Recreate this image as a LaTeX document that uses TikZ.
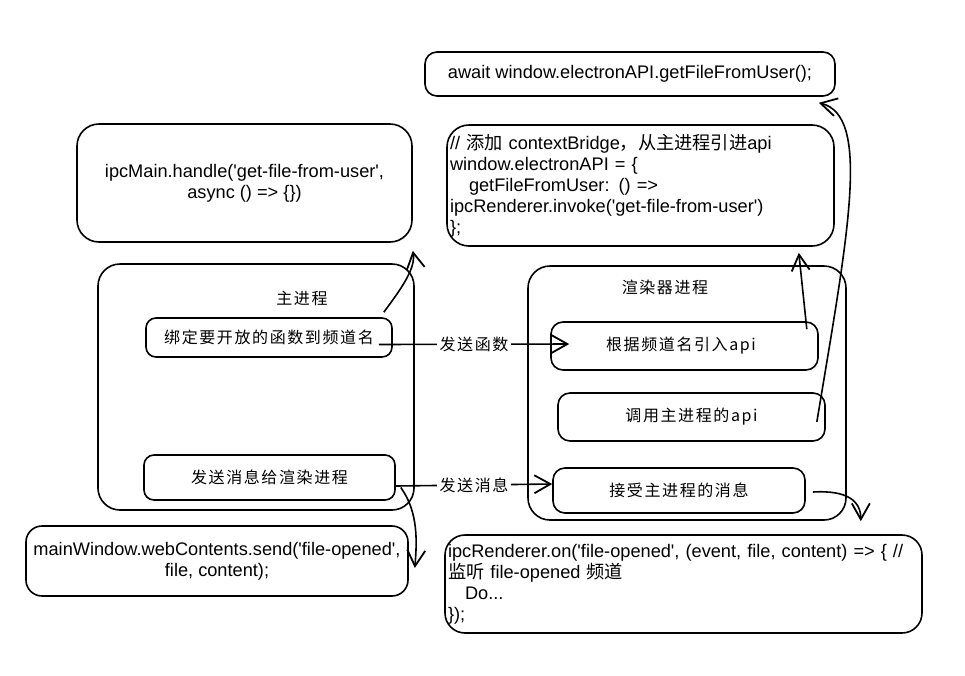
\documentclass[tikz,border=0pt]{standalone}
\usepackage{fontspec}
\setmainfont{Liberation Sans}[Ligatures=TeXOff]
\newfontfamily\cjk{Noto Sans CJK SC}
\newfontfamily\hand[LetterSpace=10]{Noto Sans CJK SC}
\usetikzlibrary{arrows.meta}
\begin{document}
\begin{tikzpicture}[x=1pt,y=-1pt,
  box/.style={draw, line width=1.6pt, rounded corners=#1, inner sep=0pt},
  box/.default=12pt,
  code/.style={font=\fontsize{18.2}{21}\selectfont},
  hw/.style={font=\fontsize{16}{20}\selectfont\hand},
  conn/.style={line width=1.6pt, -{Straight Barb[length=16pt,width=18pt,line width=1.8pt]}},
  lbl/.style={hw, fill=white, inner sep=3pt}]
\useasboundingbox[fill=white] (0,0) rectangle (965,675);

% containers
\node[box=22pt, minimum width=316pt, minimum height=246pt] (mainP) at (256,387) {};
\node[box=22pt, minimum width=318pt, minimum height=254pt] (rendP) at (687,393) {};
\node[hw] (mainT) at (302,298) {主进程};
\node[hw] (rendT) at (665,287) {渲染器进程};

% code boxes
\node[box=12pt, code, minimum width=410pt, minimum height=44pt] (A) at (630,74)
  {await window.electronAPI.getFileFromUser();};
\node[box=22pt, code, text width=381pt, inner xsep=3pt, align=left, minimum height=121pt] (B) at (640.5,185.5)
  {//~{\cjk 添加} contextBridge{\cjk ，从主进程引进}api\\
   window.electronAPI = \{\\
   \hspace*{19pt}getFileFromUser: () =>\\
   ipcRenderer.invoke('get-file-from-user')\\
   \};};
\node[box=22pt, code, align=center, minimum width=335pt, minimum height=118pt] (C) at (244.5,183)
  {ipcMain.handle('get-file-from-user',\\ async () => \{\})};
\node[box=16pt, code, align=center, minimum width=382pt, minimum height=70pt] (mw) at (217,561)
  {mainWindow.webContents.send('file-opened',\\ file, content);};
\node[box=20pt, code, text width=471pt, inner xsep=3pt, align=left, minimum height=98pt] (iR) at (683.5,584)
  {ipcRenderer.on('file-opened', (event, file, content) => \{ //\\
   {\cjk 监听} file-opened {\cjk 频道}\\
   \hspace*{17pt}Do...\\
   \});};

% inner boxes
\node[box=10pt, hw, minimum width=246pt, minimum height=39pt] (bind) at (269,337.5) {绑定要开放的函数到频道名};
\node[box=10pt, hw, minimum width=251pt, minimum height=45pt] (send) at (269.5,477.5) {发送消息给渲染进程};
\node[box=12pt, hw, minimum width=267pt, minimum height=48pt] (rootapi) at (684.5,346) {\hspace*{-7pt}根据频道名引入api};
\node[box=12pt, hw, minimum width=267pt, minimum height=48pt] (callapi) at (691.5,417) {调用主进程的api};
\node[box=12pt, hw, minimum width=252pt, minimum height=45pt] (recv) at (679,490.5) {接受主进程的消息};

% connectors
\draw[conn] ([xshift=-9pt,yshift=5pt]bind.north east) .. controls +(17,-23) and +(3,18) .. ([yshift=-8pt]C.south east);
\draw[conn] ([xshift=-14pt,yshift=-7pt]bind.east) -- node[lbl] (l1) {发送函数} ([xshift=19pt,yshift=2pt]rootapi.west);
\draw[conn] ([yshift=-8.5pt]send.east) -- node[lbl] (l2) {发送消息} ([yshift=6.5pt]recv.west);
\draw[conn] ([xshift=5pt,yshift=-10pt]send.east) .. controls +(18,25) and +(2,-25) .. ([xshift=6pt,yshift=-7pt]mw.east);
\draw[conn] ([xshift=-12pt,yshift=-8pt]rootapi.north east) -- ([xshift=-36pt,yshift=-6pt]B.south east);
\draw[conn] ([xshift=-9pt,yshift=-5pt]callapi.east) .. controls +(32,-192) and +(52,13) .. ([xshift=-17pt,yshift=-6pt]A.south east);
\draw[conn] ([xshift=7pt,yshift=-1.5pt]recv.east) .. controls +(35,-2) and +(0,-20) .. ([xshift=-62pt,yshift=13pt]iR.north east);
\end{tikzpicture}
\end{document}
